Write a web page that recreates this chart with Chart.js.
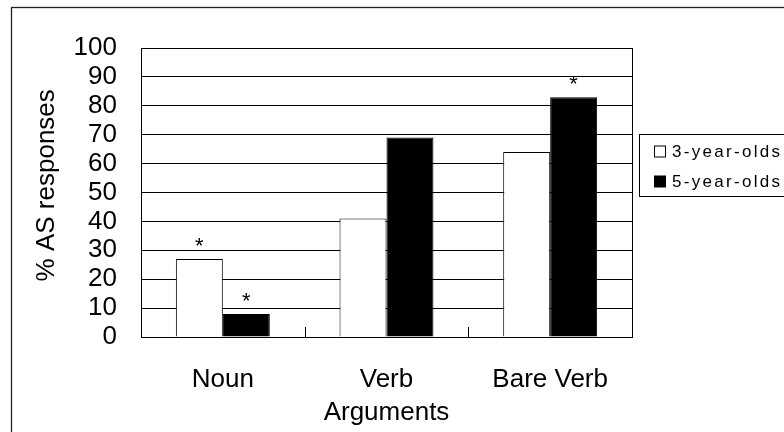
<!DOCTYPE html>
<html><head><meta charset="utf-8">
<script src="https://cdn.jsdelivr.net/npm/chart.js@4/dist/chart.umd.min.js"></script>
<style>html,body{margin:0;padding:0;background:#fff;}#wrap{width:784px;height:432px;}</style>
</head><body><div id="wrap"><canvas id="c" width="784" height="432"></canvas></div>
<script>
const categories = ['Noun', 'Verb', 'Bare Verb'];
const seriesLabels = ['3-year-olds', '5-year-olds'];
const threeYearOlds = [27, 41, 64];
const fiveYearOlds = [8, 69, 83];
const sigThree = [true, false, false];
const sigFive = [true, false, true];
const yMin = 0, yMax = 100, yStep = 10;
const xTitle = 'Arguments';
const yTitle = '% AS responses';

const FONT = "'Liberation Sans', Arial, sans-serif";
const sigs = [sigThree, sigFive];

const decor = {
  id: 'decor',
  afterDatasetsDraw(chart) {
    const ctx = chart.ctx, a = chart.chartArea, x = chart.scales.x;
    ctx.save();
    ctx.strokeStyle = '#000'; ctx.lineWidth = 1;
    ctx.strokeRect(Math.round(a.left) + 0.5, Math.round(a.top) + 0.5,
      Math.round(a.right - a.left), Math.round(a.bottom - a.top));
    ctx.beginPath();
    for (let j = 1; j < categories.length; j++) {
      const xb = Math.round((x.getPixelForValue(j - 1) + x.getPixelForValue(j)) / 2) + 0.5;
      ctx.moveTo(xb, a.bottom); ctx.lineTo(xb, a.bottom - 10);
    }
    ctx.stroke();
    ctx.fillStyle = '#000';
    ctx.font = '22px ' + FONT;
    ctx.textAlign = 'center'; ctx.textBaseline = 'alphabetic';
    chart.data.datasets.forEach((ds, i) => {
      const meta = chart.getDatasetMeta(i);
      meta.data.forEach((bar, j) => {
        if (sigs[i][j]) ctx.fillText('*', bar.x, bar.y - 6);
      });
    });
    ctx.restore();
  },
  afterDraw(chart) {
    const ctx = chart.ctx;
    ctx.save();
    ctx.strokeStyle = '#222'; ctx.lineWidth = 1.3;
    ctx.strokeRect(11.5, 7.5, 800, 440);
    ctx.strokeStyle = '#000'; ctx.lineWidth = 1;
    ctx.strokeRect(639.5, 134.5, 200, 62);
    ctx.font = '17px ' + FONT;
    ctx.textAlign = 'left'; ctx.textBaseline = 'middle';
    try { ctx.letterSpacing = '2.3px'; } catch (e) {}
    chart.data.datasets.forEach((ds, i) => {
      const cy = 151.5 + i * 30;
      ctx.fillStyle = ds.backgroundColor;
      ctx.fillRect(654.5, cy - 5.5, 11, 11);
      ctx.strokeRect(654.5, cy - 5.5, 11, 11);
      ctx.fillStyle = '#000';
      ctx.fillText(ds.label, 672, cy + 1);
    });
    ctx.restore();
  }
};

new Chart(document.getElementById('c'), {
  type: 'bar',
  data: {
    labels: categories,
    datasets: [
      { label: seriesLabels[0], data: threeYearOlds, backgroundColor: '#ffffff', borderColor: '#000', borderWidth: 1 },
      { label: seriesLabels[1], data: fiveYearOlds, backgroundColor: '#000000', borderColor: '#000', borderWidth: 1 }
    ]
  },
  options: {
    responsive: false,
    animation: false,
    devicePixelRatio: 1,
    categoryPercentage: 0.574,
    barPercentage: 1.0,
    layout: { padding: { left: 12, top: 48, right: 152, bottom: 0 } },
    plugins: { legend: { display: false }, tooltip: { enabled: false } },
    scales: {
      x: {
        grid: { display: false, drawTicks: false },
        border: { display: false },
        ticks: { autoSkip: false, maxRotation: 0, padding: 27, color: '#000', font: { family: FONT, size: 26, lineHeight: 1.2 } },
        title: { display: true, text: xTitle, color: '#000', padding: { top: 0, bottom: 4 }, font: { family: FONT, size: 26, lineHeight: 1.2 } },
        afterFit(s) { s.height = 95; }
      },
      y: {
        min: yMin, max: yMax,
        grid: { color: '#000', lineWidth: 1, drawTicks: false },
        border: { display: false },
        ticks: { stepSize: yStep, autoSkip: false, padding: 24, color: '#000', font: { family: FONT, size: 26, lineHeight: 1.0 } },
        title: { display: true, text: '\u00a0\u00a0' + yTitle, color: '#000', padding: { top: 19, bottom: 0 }, font: { family: FONT, size: 26, lineHeight: 1.2 } },
        afterFit(s) { s.width = 129; }
      }
    }
  },
  plugins: [decor]
});
</script></body></html>
